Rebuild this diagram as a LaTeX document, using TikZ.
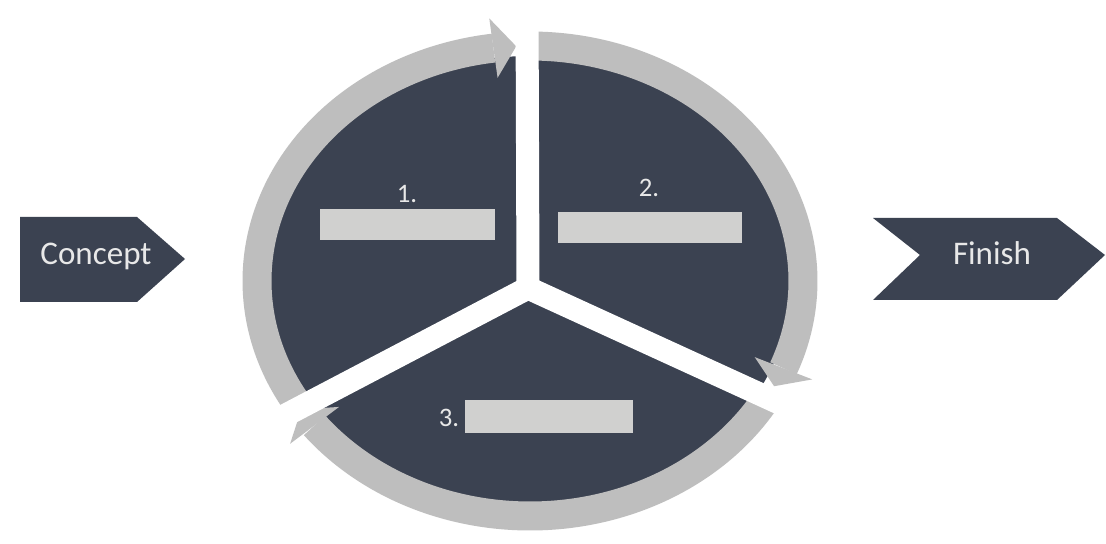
\documentclass[tikz,border=0pt]{standalone}
\usepackage{fontspec}
\setmainfont{Carlito}
\usetikzlibrary{calc}
\definecolor{slate}{HTML}{3B4251}
\definecolor{ringgrey}{HTML}{BEBEBE}
\definecolor{boxgrey}{HTML}{D0D0CF}
\definecolor{labelgrey}{HTML}{E8E8E8}
\newcommand{\ringarc}[2]{%
    \pgfmathsetmacro{\backang}{#2 + 4.8}%
    \draw[ring] ($(c)+(#1:273 and 235)$) arc[start angle=#1, end angle=\backang, x radius=273, y radius=235];%
    \fill[ringgrey] ($(c)+(\backang:304 and 265)$) -- ($(c)+(#2:273 and 235)$) -- ($(c)+(\backang:242 and 205)$) -- cycle;%
}

\begin{document}
\begin{tikzpicture}[x=0.025cm, y=0.025cm,
    ring/.style={draw=ringgrey, line width=7.25mm},
    gap/.style={draw=white, line width=5.75mm},
    textbox/.style={fill=boxgrey, inner sep=0pt},
    steplabel/.style={text=labelgrey, anchor=base, font=\fontsize{19}{22}\selectfont},
    tag/.style={text=labelgrey, anchor=base, font=\fontsize{23.5}{28}\selectfont}]
        \useasboundingbox (0,0) rectangle (1106,-544);
        \fill[white] (0,0) rectangle (1106,-544);

        % Centre of the wheel and of the three cuts
        \coordinate (c) at (530,-281);
        \coordinate (y) at (528,-288);

        % Dark disc (its rim sits under the ring)
        \fill[slate] (c) ellipse [x radius=262, y radius=225];

        % --- Ring arrows, clockwise ---
        \ringarc{210.8}{92.9}
        \ringarc{90.6}{-26.6}
        \ringarc{-28.9}{-146.9}

        % Cuts between the three parts
        \coordinate (gtop) at (527,0);
        \coordinate (gright) at (860,-440);
        \coordinate (gleft) at (200,-460);
        \draw[gap] (y) -- (gtop);
        \draw[gap] (y) -- (gright);
        \draw[gap] (y) -- (gleft);

        % --- Step 1 ---
        \node[steplabel] (n1) at (407,-203) {1.};
        \node[textbox, minimum width=43.75mm, minimum height=7.75mm] (box1) at (407.5,-224.5) {};

        % --- Step 2 ---
        \node[steplabel] (n2) at (649,-197) {2.};
        \node[textbox, minimum width=46mm, minimum height=7.75mm] (box2) at (650,-227.5) {};

        % --- Step 3 ---
        \node[steplabel] (n3) at (449,-426) {3.};
        \node[textbox, minimum width=42mm, minimum height=8.25mm] (box3) at (549,-416.5) {};

        % Start and end tags
        \fill[slate] (20,-217) -- (137,-217) -- (185,-259) -- (137,-302) -- (20,-302) -- cycle;
        \node[tag] (concept) at (96,-265) {Concept};
        \fill[slate] (873,-218) -- (1057,-218) -- (1105,-255) -- (1057,-300) -- (873,-300) -- (920,-255) -- cycle;
        \node[tag] (finish) at (992,-265) {Finish};

    \end{tikzpicture}
\end{document}
